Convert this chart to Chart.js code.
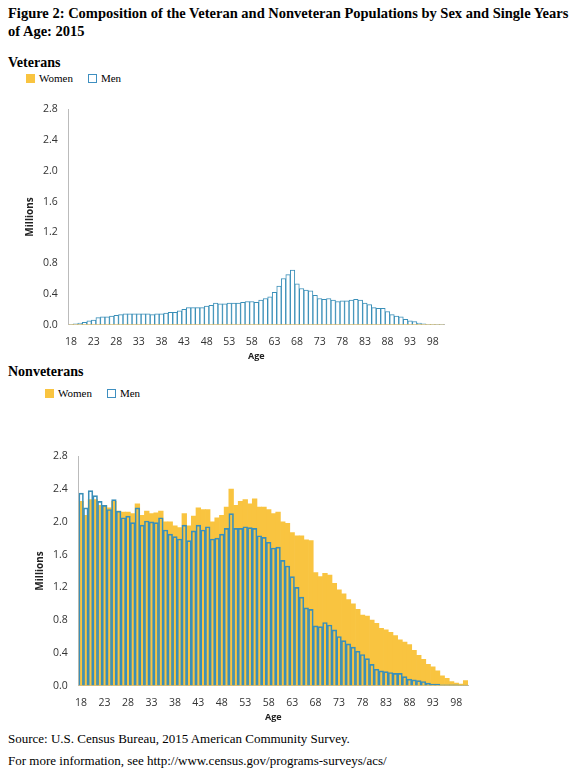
<!DOCTYPE html>
<html>
<head>
<meta charset="utf-8">
<script src="https://cdn.jsdelivr.net/npm/chart.js@4.4.0/dist/chart.umd.min.js"></script>
<style>
  body { margin: 0; background: #fff; font-family: "Liberation Serif", "Times New Roman", serif; }
  .abs { position: absolute; }
  .title { left: 8px; top: 4px; width: 572px; font-weight: bold; font-size: 14.5px; line-height: 18px; }
  .head { font-weight: bold; font-size: 14px; left: 8px; }
  .legend { font-size: 11px; display: flex; align-items: center; gap: 4px; }
  .sw { display: inline-block; width: 9px; height: 9px; box-sizing: border-box; }
  .note { left: 8px; font-size: 13px; }
</style>
</head>
<body>
<div class="abs title">Figure 2: Composition of the Veteran and Nonveteran Populations by Sex and Single Years of Age: 2015</div>

<div class="abs head" style="top:55px">Veterans</div>
<div class="abs legend" style="left:26px;top:72px"><span class="sw" style="background:#f9c440"></span>Women&nbsp;&nbsp;&nbsp;&nbsp;<span class="sw" style="border:1px solid #3e8fc0;background:#fff"></span>Men</div>
<div class="abs" style="left:0;top:100px;width:462px;height:262px"><canvas id="vet"></canvas></div>

<div class="abs head" style="top:364px">Nonveterans</div>
<div class="abs legend" style="left:45px;top:387px"><span class="sw" style="background:#f9c440"></span>Women&nbsp;&nbsp;&nbsp;&nbsp;<span class="sw" style="border:1px solid #3e8fc0;background:#fff"></span>Men</div>
<div class="abs" style="left:0;top:447px;width:484px;height:276px"><canvas id="nonvet"></canvas></div>

<div class="abs note" style="top:731px">Source: U.S. Census Bureau, 2015 American Community Survey.</div>
<div class="abs note" style="top:753px">For more information, see http://www.census.gov/programs-surveys/acs/</div>

<script>
// Ages 18 through 100
const ages = [];
for (let a = 18; a <= 100; a++) ages.push(a);

const vetWomen = [0.002,0.004,0.006,0.008,0.01,0.012,0.014,0.016,0.018,0.02,0.02,0.02,0.022,0.022,0.022,0.022,0.02,0.02,0.018,0.018,0.018,0.018,0.02,0.02,0.022,0.025,0.028,0.03,0.03,0.03,0.03,0.032,0.035,0.033,0.032,0.03,0.03,0.03,0.03,0.03,0.028,0.025,0.022,0.02,0.018,0.015,0.012,0.008,0.006,0.005,0.005,0.005,0.005,0.005,0.005,0.005,0.005,0.005,0.005,0.005,0.005,0.005,0.005,0.005,0.005,0.005,0.005,0.005,0.005,0.005,0.005,0.005,0.005,0.005,0.005,0.005,0.004,0.003,0.002,0.002,0.002,0.001,0.001];
const vetMen = [0.005,0.01,0.02,0.03,0.05,0.06,0.09,0.1,0.1,0.11,0.12,0.13,0.14,0.14,0.14,0.14,0.14,0.14,0.13,0.14,0.14,0.15,0.16,0.16,0.18,0.2,0.22,0.22,0.22,0.22,0.24,0.25,0.28,0.27,0.27,0.28,0.28,0.28,0.29,0.3,0.3,0.29,0.32,0.34,0.36,0.42,0.5,0.6,0.65,0.71,0.53,0.47,0.45,0.44,0.38,0.34,0.33,0.34,0.32,0.3,0.31,0.31,0.32,0.33,0.32,0.28,0.26,0.22,0.21,0.21,0.17,0.13,0.11,0.1,0.07,0.05,0.04,0.02,0.01,0.005,0.005,0.005,0.005];

const nonWomen = [2.25,2.08,2.27,2.27,2.2,2.2,2.17,2.25,2.13,2.12,2.12,2.1,2.22,2.08,2.13,2.1,2.11,2.13,2.0,2.0,1.95,1.93,2.1,1.95,2.07,2.17,2.15,2.15,2.0,2.05,2.08,2.18,2.4,2.2,2.25,2.27,2.22,2.28,2.18,2.18,2.15,2.1,2.12,2.0,1.98,1.87,1.83,1.83,1.78,1.77,1.38,1.33,1.37,1.35,1.25,1.17,1.12,1.05,1.0,0.93,0.86,0.85,0.8,0.76,0.7,0.68,0.65,0.61,0.56,0.53,0.5,0.43,0.37,0.32,0.26,0.23,0.18,0.12,0.09,0.05,0.03,0.02,0.06];
const nonMen = [2.35,2.17,2.38,2.32,2.25,2.2,2.15,2.27,2.13,2.05,2.07,1.99,2.17,1.96,2.01,2.0,1.99,2.05,1.9,1.85,1.82,1.79,1.96,1.77,1.89,1.96,1.9,1.94,1.79,1.8,1.85,1.92,2.1,1.92,1.92,1.94,1.93,1.92,1.83,1.81,1.75,1.68,1.69,1.53,1.46,1.33,1.2,1.08,0.95,0.93,0.73,0.72,0.77,0.74,0.68,0.6,0.55,0.51,0.47,0.42,0.38,0.33,0.26,0.2,0.18,0.17,0.16,0.15,0.15,0.11,0.08,0.07,0.06,0.05,0.03,0.02,0.02,0.01,0.01,0.01,0.01,0.005,0.005];

const yTicks = [0, 0.4, 0.8, 1.2, 1.6, 2.0, 2.4, 2.8];

const gold = "#f9c440";
const blue = "#3a8fb8";

function makeChart(id, women, men, menFill, pad) {
  new Chart(document.getElementById(id), {
    type: "bar",
    data: {
      labels: ages,
      datasets: [
        { label: "Men", data: men, backgroundColor: menFill, borderColor: blue, borderWidth: 1, order: 0 },
        { label: "Women", data: women, backgroundColor: gold, borderWidth: 0, order: 1 }
      ]
    },
    options: {
      responsive: true,
      maintainAspectRatio: false,
      animation: false,
      layout: { padding: pad },
      datasets: { bar: { grouped: false, categoryPercentage: 1, barPercentage: 1 } },
      plugins: { legend: { display: false }, tooltip: { enabled: false } },
      scales: {
        x: {
          grid: { display: false },
          border: { color: "#bbb" },
          ticks: {
            autoSkip: false, maxRotation: 0, color: "#333",
            font: { family: "Open Sans", size: 10.5 },
            callback: (v, i) => (i % 5 === 0 ? ages[i] : "")
          },
          title: { display: true, text: "Age", color: "#222", padding: 0, font: { family: "Open Sans", size: 9, weight: "bold" } }
        },
        y: {
          min: 0, max: 2.8,
          afterBuildTicks: (ax) => { ax.ticks = yTicks.map(v => ({ value: v })); },
          grid: { display: false },
          border: { color: "#bbb" },
          ticks: { color: "#333", font: { family: "Open Sans", size: 10.5 }, callback: v => v.toFixed(1) },
          title: { display: true, text: "Millions", color: "#222", font: { family: "Open Sans", size: 10, weight: "bold" } }
        }
      }
    }
  });
}

makeChart("vet", vetWomen, vetMen, "#ffffff", { left: 20, right: 18, top: 2, bottom: 0 });
makeChart("nonvet", nonWomen, nonMen, "rgba(0,0,0,0)", { left: 30, right: 16, top: 4, bottom: 0 });
</script>
</body>
</html>
